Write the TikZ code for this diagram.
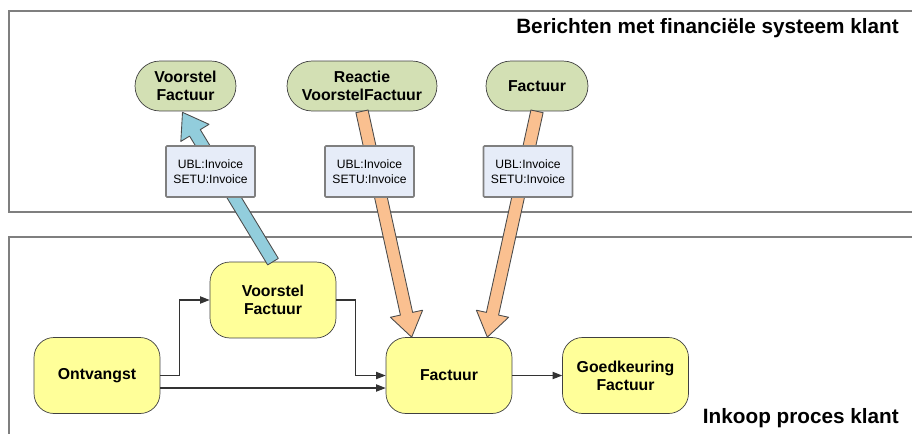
\documentclass[tikz,border=0pt]{standalone}
\usepackage{fontspec}
\setmainfont{Liberation Sans}
\usetikzlibrary{calc,arrows.meta}

\definecolor{procfill}{HTML}{FFFF99}
\definecolor{msgfill}{HTML}{D3E0B4}
\definecolor{tagfill}{HTML}{E6ECF8}
\definecolor{sendarrow}{HTML}{92CDDC}
\definecolor{recvarrow}{HTML}{FAC090}
\definecolor{framegray}{HTML}{7F7F7F}

\tikzset{
  frame/.style={draw=framegray, line width=1.1pt},
  proc/.style={draw=black!75, fill=procfill, rounded corners=0.4cm, minimum width=2.52cm, minimum height=1.52cm, align=center, font=\fontsize{9}{10.2}\selectfont\bfseries},
  msg/.style={draw=black!75, fill=msgfill, rounded corners=0.5cm, minimum height=1cm, align=center, font=\fontsize{9}{10.2}\selectfont\bfseries},
  tag/.style={draw=framegray, line width=0.9pt, fill=tagfill, rounded corners=0.5pt, minimum width=1.78cm, minimum height=1.02cm, align=center, font=\fontsize{6.9}{8.5}\selectfont},
  flow/.style={->, draw=black!80, line width=0.6pt},
  bigarrow/.style={draw=black!70, line width=0.5pt, line join=round},
  title/.style={anchor=east, font=\fontsize{11.8}{13}\selectfont\bfseries}
}

\begin{document}
\begin{tikzpicture}[x=0.02cm, y=-0.02cm, >={Triangle[length=5.5pt,width=4.2pt]}]
\useasboundingbox (0,0) rectangle (912,433);
\clip (0,0) rectangle (912,433);

% swimlanes
\draw[frame] (9,11) rectangle (940,212);
\draw[frame] (9,237) rectangle (940,460);
\node[title] (lanetop) at (905,28) {Berichten met financiële systeem klant};
\node[title] (lanebot) at (905,418) {Inkoop proces klant};

% messages
\node[msg, minimum width=2.02cm] (gvf) at (185.5,86) {Voorstel\\Factuur};
\node[msg, minimum width=3.0cm] (greact) at (362,86) {Reactie\\VoorstelFactuur};
\node[msg, minimum width=2.04cm] (gfact) at (537,86) {Factuur};

% process steps
\node[proc] (ontv) at (97,375.5) {Ontvangst};
\node[proc] (vfac) at (273,300) {Voorstel\\Factuur};
\node[proc] (fact) at (449,375.5) {Factuur};
\node[proc] (goed) at (625.5,375.5) {Goedkeuring\\Factuur};

\draw[flow] (ontv.east) -- ++(19,0) |- (vfac.west);
\draw[flow] (vfac.east) -- ++(19,0) |- (fact.west);
\draw[flow] ($(ontv.east)+(0,12.5)$) -- ($(fact.west)+(0,12.5)$);
\draw[flow] (fact) -- (goed);

% block arrows
\coordinate (t1) at (vfac.north);
\coordinate (h1) at ($(gvf.south)+(-3,1)$);
\coordinate (t2) at (greact.south);
\coordinate (h2) at ($(fact.north west)+(26,0)$);
\coordinate (t3) at (gfact.south);
\coordinate (h3) at ($(fact.north east)+(-25,0)$);

\foreach \a/\b/\col in {t1/h1/sendarrow, t2/h2/recvarrow, t3/h3/recvarrow}
{
    \coordinate (c) at ($(\b)!0.48cm!(\a)$);
    \draw[bigarrow, fill=\col] ($(\a)!0.125cm!90:(\b)$) -- ($(c)!0.125cm!90:(\b)$)
        -- ($(c)!0.33cm!90:(\b)$) -- (\b) -- ($(c)!0.33cm!-90:(\b)$)
        -- ($(c)!0.125cm!-90:(\b)$) -- ($(\a)!0.125cm!-90:(\b)$) -- cycle;
}

% message formats
\node[tag] (tag1) at (210.5,171.5) {UBL:Invoice\\SETU:Invoice};
\node[tag] (tag2) at (369.5,171.5) {UBL:Invoice\\SETU:Invoice};
\node[tag] (tag3) at (528,171.5) {UBL:Invoice\\SETU:Invoice};
\end{tikzpicture}
\end{document}
